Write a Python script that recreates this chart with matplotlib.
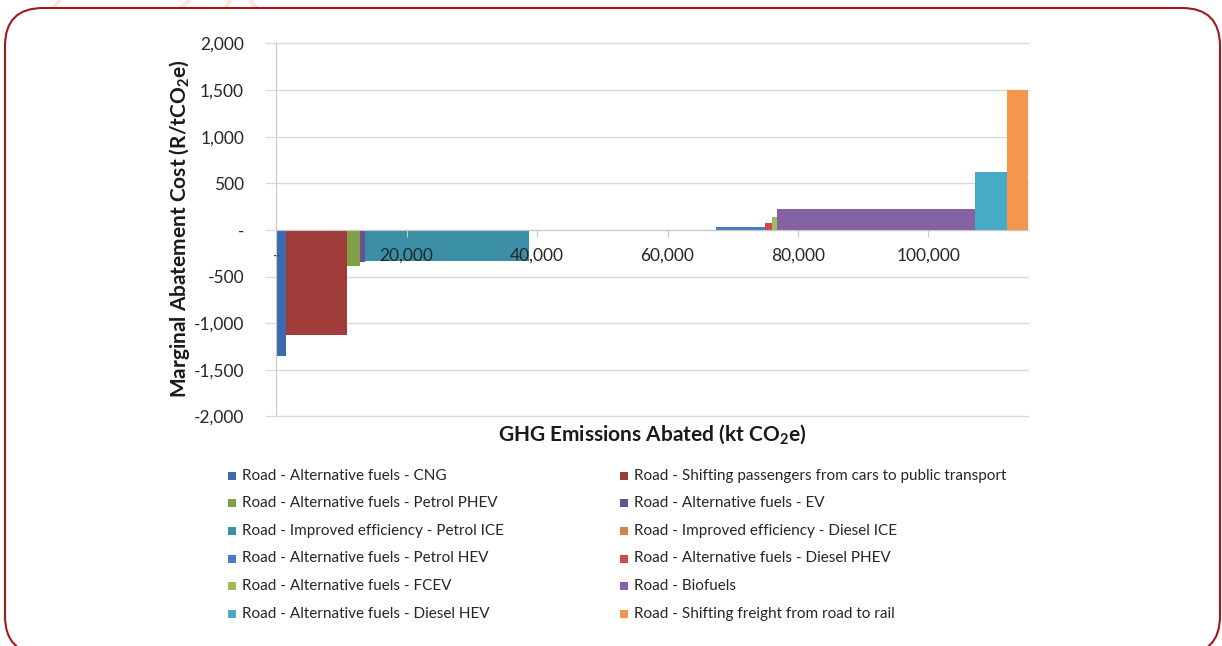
import numpy as np
import matplotlib.pyplot as plt
from matplotlib.patches import FancyBboxPatch, Rectangle
from matplotlib.ticker import FuncFormatter

plt.rcParams['font.family'] = ['Lato', 'DejaVu Sans']
plt.rcParams['mathtext.fontset'] = 'custom'
plt.rcParams['mathtext.rm'] = 'Lato'
plt.rcParams['mathtext.bf'] = 'Lato:bold'

# abatement measures, in merit order (cheapest first)
measures = [
    'Road - Alternative fuels - CNG',
    'Road - Shifting passengers from cars to public transport',
    'Road - Alternative fuels - Petrol PHEV',
    'Road - Alternative fuels - EV',
    'Road - Improved efficiency - Petrol ICE',
    'Road - Improved efficiency - Diesel ICE',
    'Road - Alternative fuels - Petrol HEV',
    'Road - Alternative fuels - Diesel PHEV',
    'Road - Alternative fuels - FCEV',
    'Road - Biofuels',
    'Road - Alternative fuels - Diesel HEV',
    'Road - Shifting freight from road to rail',
]
abated = [1530, 9400, 1950, 770, 25180, 28610, 7510, 1120, 670, 30390, 4980, 3100]  # kt CO2e
cost = [-1355, -1125, -383, -345, -330, -10, 33, 72, 136, 230, 622, 1500]  # R/tCO2e
colors = ['#3C6AAE', '#A03D3B', '#7FA046', '#6B4F92', '#3A8FA6', '#D98540',
          '#4A7BC2', '#CF4B49', '#9DBF55', '#8462A4', '#45ABC6', '#F5964A']

y_ticks = np.arange(-2000, 2001, 500)
x_ticks = np.arange(0, 100001, 20000)


def dash_zero(v, pos):
    return '-' if v == 0 else f'{v:,.0f}'


fig = plt.figure(figsize=(12.22, 6.46), dpi=100)

# background layer in pixel units: frame, watermark, legend, axis titles
bg = fig.add_axes([0, 0, 1, 1], zorder=-1)
bg.set_xlim(0, 1222)
bg.set_ylim(646, 0)
bg.axis('off')
for x0, x1 in [(10, 60), (120, 190), (200, 230), (300, 250)]:
    bg.plot([x0, x1], [60, 0], color='#FCE8D6', lw=3, solid_capstyle='butt', zorder=0)
frame = FancyBboxPatch((5, 8), 1215, 646, boxstyle='round,pad=0,rounding_size=38',
                       fc='white', ec='#A3181F', lw=1.5, zorder=1)
bg.add_patch(frame)

ax = fig.add_axes([0.2259, 0.3553, 0.6151, 0.5774])
ax.patch.set_alpha(0)

left = np.concatenate([[0], np.cumsum(abated)[:-1]])
ax.bar(left, cost, width=abated, align='edge', color=colors, lw=0, zorder=1)

for y in y_ticks:
    ax.axhline(y, color='#D9D9D9', lw=1, zorder=0, clip_on=False)

ax.set_xlim(0, sum(abated))
ax.set_ylim(-2000, 2000)
ax.set_yticks(y_ticks)
ax.set_xticks(x_ticks)
ax.yaxis.set_major_formatter(FuncFormatter(dash_zero))
ax.xaxis.set_major_formatter(FuncFormatter(dash_zero))

for s in ['top', 'right']:
    ax.spines[s].set_visible(False)
ax.spines['left'].set_color('#C8C8C8')
ax.spines['bottom'].set_position(('data', 0))
ax.spines['bottom'].set_color('#C8C8C8')
ax.spines['bottom'].set_zorder(2)

ax.tick_params(axis='y', direction='out', length=8, color='#D9D9D9',
               labelsize=12.5, labelcolor='#262626', pad=15)
ax.tick_params(axis='x', direction='out', length=5, color='#C8C8C8',
               labelsize=12.5, labelcolor='#262626', pad=8)

bg.text(180, 229, 'Marginal Abatement Cost (R/tCO$_\\mathbf{2}$e)', rotation=90,
        ha='center', va='center', fontsize=15, fontweight='bold', color='#1A1A1A')
bg.text(652, 435, 'GHG Emissions Abated (kt CO$_\\mathbf{2}$e)',
        ha='center', va='center', fontsize=15, fontweight='bold', color='#1A1A1A')

# legend, two columns in row order
col_x = [228, 620]
for i, (name, c) in enumerate(zip(measures, colors)):
    row, col = divmod(i, 2)
    x = col_x[col]
    y = 475.7 + 27.6 * row
    bg.add_patch(Rectangle((x, y - 4), 8, 8, color=c, lw=0, zorder=2))
    bg.text(x + 14, y, name, va='center', ha='left', fontsize=11, color='#262626', zorder=3)

fig.savefig('out.png', dpi=100)
